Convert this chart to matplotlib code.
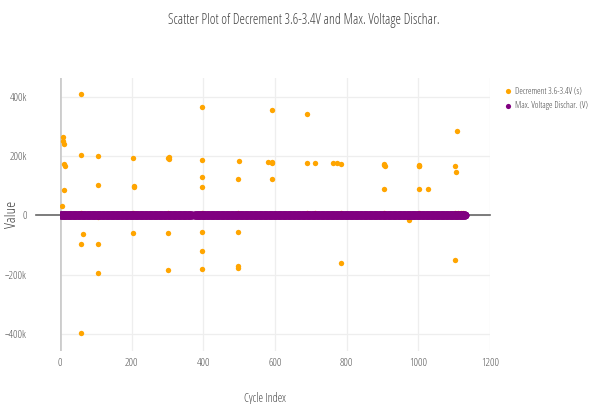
import numpy as np
import matplotlib
matplotlib.use("Agg")
import matplotlib.pyplot as plt

plt.rcParams['font.family'] = ['Open Sans', 'DejaVu Sans']
plt.rcParams['font.stretch'] = 'condensed'
plt.rcParams['font.weight'] = 'light'

# Decrement 3.6-3.4V (s): cycle index and value
dec_cycles = [5, 8, 9, 10, 10, 12, 13,
              58, 58, 58, 58, 64,
              107, 107, 107, 107,
              205, 206, 206, 205, 302, 303, 303, 302, 302,
              397, 397, 397, 397, 397, 397, 397,
              500, 498, 498, 498, 498,
              581, 592, 593, 592, 592, 688, 690, 713,
              761, 774, 785, 784, 905, 905, 907, 905,
              973, 1001, 1001, 1003, 1001, 1028,
              1102, 1105, 1107, 1102,
              20, 58, 107, 205, 302, 397, 498, 592, 690, 712, 785, 905,
              1001, 1010, 1102, 1110, 1118, 1125]
dec_values = [32e3, 265e3, 250e3, 240e3, 86e3, 172e3, 167e3,
              408e3, 204e3, -97e3, -398e3, -63e3,
              201e3, 102e3, -95e3, -194e3,
              194e3, 100e3, 97e3, -59e3, 193e3, 196e3, 190e3, -59e3, -185e3,
              365e3, 187e3, 128e3, 97e3, -57e3, -120e3, -181e3,
              184e3, 124e3, -55e3, -172e3, -178e3,
              181e3, 356e3, 178e3, 121e3, 181e3, 342e3, 176e3, 176e3,
              175e3, 175e3, 172e3, -161e3, 170e3, 172e3, 168e3, 88e3,
              -14e3, 167e3, 88e3, 170e3, 165e3, 88e3,
              166e3, 146e3, 283e3, -149e3,
              6e3, 7e3, -7e3, 8e3, 7e3, 8e3, 8e3, 6e3, 7e3, 8e3, 7e3, 8e3,
              8e3, 6e3, 8e3, 7e3, 8e3, 7e3]

# Max. Voltage Dischar. (V): every cycle sits at about 3.6 V (reads as 0 here)
volt_cycles = np.concatenate([np.arange(1, 369), np.arange(375, 1132)])
volt_values = np.full(len(volt_cycles), 3.6)

x_ticks = [0, 200, 400, 600, 800, 1000, 1200]
y_ticks = [-400e3, -200e3, 0, 200e3, 400e3]
y_ticklabels = ['\u2212400k', '\u2212200k', '0', '200k', '400k']

fig = plt.figure(figsize=(5.93, 4.04), dpi=100)
ax = fig.add_axes([60 / 593, 1 - 351 / 404, 430 / 593, 273 / 404])

ax.scatter(dec_cycles, dec_values, s=15, color='#FFA500', linewidths=0,
           label='Decrement 3.6-3.4V (s)', zorder=3)
ax.scatter(volt_cycles, volt_values, s=32, color='#800080', linewidths=0,
           label='Max. Voltage Dischar. (V)', zorder=4)

ax.set_xlim(0, 1200)
ax.set_ylim(-457e3, 463e3)
ax.set_xticks(x_ticks)
ax.set_yticks(y_ticks)
ax.set_yticklabels(y_ticklabels)
ax.tick_params(length=0, labelsize=8, colors='#555555')
ax.tick_params(axis='x', pad=5)
ax.tick_params(axis='y', pad=24)
for s in ax.spines.values():
    s.set_visible(False)
ax.grid(True, color='#eeeeee', linewidth=0.9)
ax.set_axisbelow(True)

# zero lines
ax.axvline(0, color='#cccccc', linewidth=2, zorder=2)
ax.plot([-0.056, 1], [0.5 - 3e3 / 920e3] * 2,
        transform=ax.transAxes, color='#666666', linewidth=1.2,
        clip_on=False, zorder=2)

ax.set_xlabel('Cycle Index', fontsize=8.5, color='#444444')
ax.set_ylabel('Value', fontsize=11, color='#444444')
ax.xaxis.set_label_coords(0.477, -0.15)
ax.yaxis.set_label_coords(-0.092, 0.5)

fig.text(0.512, 1 - 20 / 404, 'Scatter Plot of Decrement 3.6-3.4V and Max. Voltage Dischar.',
         ha='center', va='center', fontsize=10, color='#444444')

leg = fig.legend(loc='upper left', bbox_to_anchor=(499 / 593, 1 - 83 / 404),
                 frameon=False, fontsize=6.5, handletextpad=0.15,
                 labelspacing=0.65, borderaxespad=0, handlelength=1.2)
for h in leg.legend_handles:
    h.set_sizes([14])
for t in leg.get_texts():
    t.set_color('#444444')

fig.savefig('out.png', dpi=100)
